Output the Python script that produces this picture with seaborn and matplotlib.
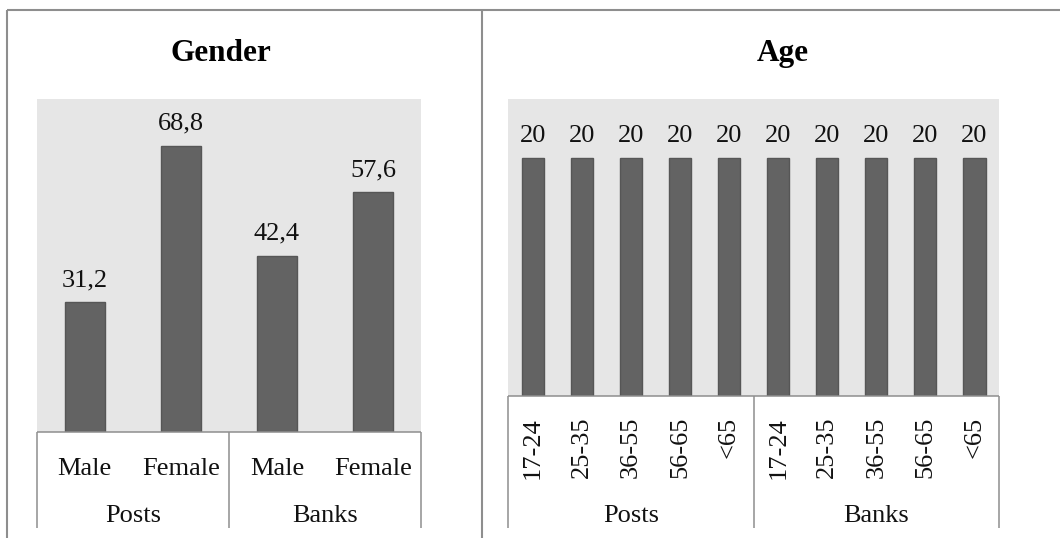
import matplotlib
matplotlib.use("Agg")
import matplotlib.pyplot as plt
from matplotlib.lines import Line2D
from matplotlib.transforms import blended_transform_factory
import pandas as pd
import seaborn as sns

# ---- data -------------------------------------------------------------
groups = ["Posts", "Banks"]
gender_labels = ["Male", "Female"]
gender_values = [31.2, 68.8, 42.4, 57.6]          # Posts M, Posts F, Banks M, Banks F
age_labels = ["17-24", "25-35", "36-55", "56-65", "<65"]
age_values = [20, 20, 20, 20, 20, 20, 20, 20, 20, 20]  # Posts x5, Banks x5

# ---- style ------------------------------------------------------------
sns.set_theme(style="white")
plt.rcParams["font.family"] = ["Liberation Serif", "DejaVu Serif"]

W, H = 1060, 538
BAR_FILL = "#636363"
BAR_EDGE = "#565656"
PANEL_BG = "#e6e6e6"
RULE = "#8e8e8e"
FS = 19

fig = plt.figure(figsize=(W / 100, H / 100), dpi=100)


def fx(x):
    return x / W


def fy(y):
    return 1 - y / H


def rule(x0, y0, x1, y1, lw=1.1, color=RULE):
    fig.add_artist(Line2D([fx(x0), fx(x1)], [fy(y0), fy(y1)],
                          transform=fig.transFigure, color=color, lw=lw,
                          solid_capstyle="butt"))


def fmt(v):
    return str(int(v)) if float(v).is_integer() else f"{v:.1f}".replace(".", ",")


def draw_panel(rect_px, values, labels, ylim, width, title, title_x,
               rotate, label_y, group_y, box_bottom):
    left, top, right, bottom = rect_px
    ax = fig.add_axes([fx(left), fy(bottom), (right - left) / W, (bottom - top) / H])
    ax.set_facecolor(PANEL_BG)
    n_per = len(labels)
    names = [f"{g} {lab}" for g in groups for lab in labels]
    df = pd.DataFrame({"bar": names, "value": values})
    sns.barplot(data=df, x="bar", y="value", order=names, color=BAR_FILL,
                saturation=1, width=width, edgecolor=BAR_EDGE, linewidth=1.0,
                ax=ax)
    ax.set_xlim(-0.5, len(names) - 0.5)
    ax.set_ylim(0, ylim)
    ax.set_xticks([])
    ax.set_yticks([])
    ax.set_xlabel("")
    ax.set_ylabel("")
    for s in ax.spines.values():
        s.set_visible(False)

    # value labels above bars
    for i, v in enumerate(values):
        ax.annotate(fmt(v), (i, v), xytext=(0, 11.5), textcoords="offset points",
                    ha="center", va="baseline", fontsize=FS, color="#111111")

    # category box beneath the plot
    rule(left, bottom, right, bottom)
    mid = (left + right) / 2
    for xv in (left, mid, right):
        rule(xv, bottom, xv, box_bottom)

    tr = blended_transform_factory(ax.transData, fig.transFigure)
    for gi, g in enumerate(groups):
        for li, lab in enumerate(labels):
            i = gi * n_per + li
            if rotate:
                ax.text(i, fy(label_y), lab, transform=tr, rotation=90,
                        ha="center", va="top", fontsize=FS, color="#111111")
            else:
                ax.text(i, fy(label_y), lab, transform=tr, ha="center",
                        va="baseline", fontsize=FS, color="#111111")
        ax.text(gi * n_per + (n_per - 1) / 2, fy(group_y), g, transform=tr,
                ha="center", va="baseline", fontsize=FS, color="#111111")

    fig.text(fx(title_x), fy(61), title, ha="center", va="baseline",
             fontsize=22.5, fontweight="bold", color="#000000")
    return ax


draw_panel((36.7, 99, 421, 432), gender_values, gender_labels, 80, 0.42,
           "Gender", 221, rotate=False, label_y=475, group_y=522, box_bottom=528)
draw_panel((508.3, 99, 999, 395.7), age_values, age_labels, 25, 0.45,
           "Age", 783, rotate=True, label_y=417, group_y=522, box_bottom=528)

# outer table frame
rule(7.3, 9.5, W, 9.5, lw=1.5)
rule(7.3, 9.5, 7.3, H, lw=1.5)
rule(482, 9.5, 482, H, lw=1.5)

fig.savefig("out.png", dpi=100, facecolor="white")
